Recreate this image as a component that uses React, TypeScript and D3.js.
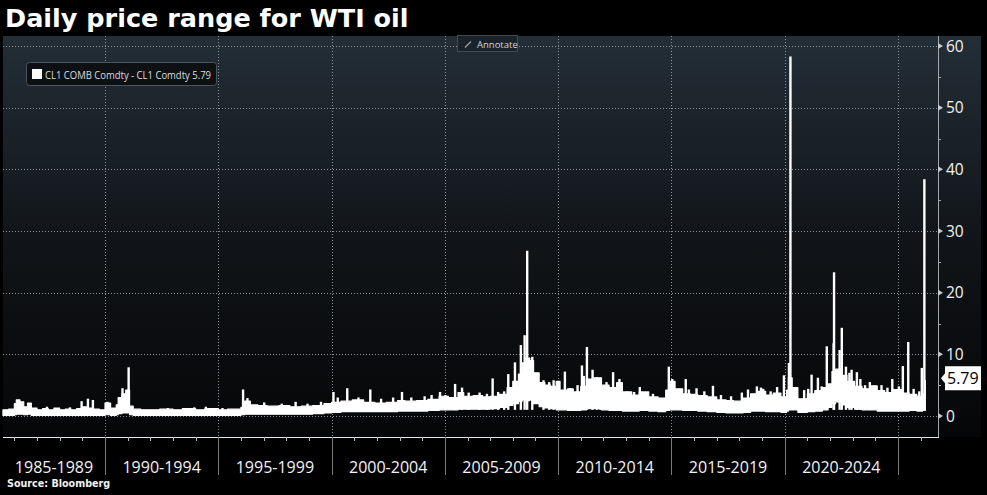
import * as d3 from "d3";

// daily high-low range of CL1 (USD/bbl)
const bandDates = [
  "1985-07-01", "1985-10-01", "1986-01-01", "1986-02-01", "1986-04-01", "1986-06-01", "1986-08-01", "1986-10-01",
  "1987-01-01", "1987-04-01", "1987-07-01", "1987-10-01", "1988-01-01", "1988-04-01", "1988-07-01", "1988-10-01",
  "1989-01-01", "1989-04-01", "1989-07-01", "1989-10-01", "1990-01-01", "1990-04-01", "1990-07-01", "1990-08-01",
  "1990-10-01", "1990-12-01", "1991-02-01", "1991-04-01", "1991-08-01", "1992-01-01", "1992-06-01", "1993-01-01",
  "1993-06-01", "1994-01-01", "1994-06-01", "1995-01-01", "1995-06-01", "1996-01-01", "1996-03-01", "1996-06-01",
  "1996-10-01", "1997-03-01", "1997-09-01", "1998-03-01", "1998-09-01", "1999-03-01", "1999-09-01", "2000-01-01",
  "2000-06-01", "2000-12-01", "2001-06-01", "2001-12-01", "2002-06-01", "2002-12-01", "2003-04-01", "2003-10-01",
  "2004-04-01", "2004-10-01", "2005-03-01", "2005-08-01", "2005-11-01", "2006-04-01", "2006-09-01", "2007-01-01",
  "2007-06-01", "2007-10-01", "2008-01-01", "2008-04-01", "2008-06-01", "2008-08-01", "2008-10-01", "2008-12-01",
  "2009-03-01", "2009-06-01", "2009-09-01", "2009-12-01", "2010-02-01", "2010-06-01", "2010-09-01", "2011-01-01",
  "2011-04-01", "2011-08-01", "2011-12-01", "2012-04-01", "2012-08-01", "2012-11-01", "2013-04-01", "2013-08-01",
  "2014-01-01", "2014-06-01", "2014-10-01", "2014-12-01", "2015-03-01", "2015-07-01", "2015-11-01", "2016-03-01",
  "2016-08-01", "2017-01-01", "2017-06-01", "2017-10-01", "2018-03-01", "2018-07-01", "2018-11-01", "2019-03-01",
  "2019-07-01", "2019-11-01", "2020-02-01", "2020-03-01", "2020-05-01", "2020-08-01", "2021-01-01", "2021-05-01",
  "2021-09-01", "2021-12-01", "2022-02-01", "2022-04-01", "2022-07-01", "2022-10-01", "2023-02-01", "2023-06-01",
  "2023-10-01", "2024-02-01", "2024-06-01", "2024-10-01", "2025-03-01", "2025-07-01", "2025-11-01", "2026-02-01",
  "2026-03-17",
];
const bandLow = [
  0.1, 0.1, 0.2, 0.3, 0.3, 0.2, 0.3, 0.1,
  0.1, 0.1, 0.1, 0.1, 0.1, 0.1, 0.1, 0.1,
  0.1, 0.1, 0.1, 0.1, 0.2, 0.1, 0.2, 0.4,
  0.5, 0.5, 0.2, 0.1, 0.1, 0.1, 0.1, 0.1,
  0.1, 0.1, 0.1, 0.1, 0.1, 0.2, 0.3, 0.3,
  0.3, 0.3, 0.3, 0.3, 0.3, 0.4, 0.5, 0.6,
  0.7, 0.7, 0.7, 0.7, 0.7, 0.8, 0.8, 0.8,
  0.9, 1.0, 1.0, 1.1, 1.1, 1.1, 1.1, 1.2,
  1.4, 1.7, 2.0, 2.4, 2.6, 2.5, 2.6, 2.0,
  1.5, 1.3, 1.2, 1.0, 1.0, 0.9, 0.9, 1.0,
  1.2, 1.2, 1.0, 0.9, 0.9, 0.8, 0.8, 0.9,
  0.8, 0.7, 0.9, 1.0, 1.0, 0.9, 0.9, 0.8,
  0.7, 0.6, 0.5, 0.5, 0.6, 0.8, 0.8, 0.7,
  0.7, 0.6, 0.8, 1.0, 1.0, 0.6, 0.7, 0.8,
  1.0, 1.4, 2.0, 2.3, 1.8, 1.4, 1.1, 1.0,
  1.0, 0.8, 0.8, 0.8, 0.8, 0.9, 0.8, 0.9,
  0.9,
];
const bandHigh = [
  1.0, 1.1, 2.0, 2.6, 2.3, 1.5, 2.1, 1.3,
  1.0, 1.2, 1.0, 1.3, 1.0, 1.1, 1.0, 1.2,
  1.5, 1.3, 1.1, 1.0, 2.1, 1.3, 1.8, 3.0,
  3.6, 4.2, 1.6, 1.1, 1.0, 1.0, 1.1, 1.0,
  1.2, 1.0, 1.2, 1.0, 1.1, 1.4, 2.4, 1.8,
  1.7, 1.6, 1.7, 1.5, 1.6, 1.7, 2.0, 2.2,
  2.4, 2.6, 2.2, 2.1, 2.2, 2.5, 2.4, 2.5,
  2.7, 3.2, 3.0, 3.8, 3.2, 3.3, 3.1, 3.2,
  3.5, 4.6, 5.6, 6.8, 8.6, 9.4, 9.0, 7.0,
  5.4, 5.0, 4.8, 5.6, 4.2, 4.4, 3.9, 4.8,
  6.0, 6.2, 5.0, 4.6, 5.4, 3.9, 3.4, 3.9,
  3.1, 2.9, 4.2, 5.6, 4.4, 3.6, 3.5, 3.3,
  3.1, 2.6, 2.5, 2.4, 2.9, 3.6, 4.0, 3.4,
  3.7, 3.1, 4.2, 6.2, 4.6, 2.8, 3.6, 4.1,
  4.6, 5.2, 7.2, 7.6, 6.6, 5.6, 4.8, 4.4,
  4.9, 4.1, 3.8, 4.3, 3.7, 3.5, 3.2, 3.5,
  5.79,
];

// single-day outliers sticking out of the band
const spikeDates = [
  "1987-06-10", "1988-06-15", "1988-12-20", "1989-04-01", "1989-06-20", "1990-02-10", "1990-10-10", "1991-01-17",
  "1992-10-10", "1993-12-10", "1994-06-15", "1995-03-10", "1996-02-05", "1996-04-15", "1997-01-10", "1997-10-20",
  "1998-06-01", "1998-12-10", "1999-07-15", "2000-02-01", "2000-04-10", "2000-09-10", "2001-03-10", "2001-09-17",
  "2002-03-10", "2002-09-20", "2003-02-10", "2003-07-10", "2004-02-10", "2004-06-01", "2004-10-15", "2005-01-10",
  "2005-06-15", "2005-10-05", "2006-01-20", "2006-07-15", "2006-11-10", "2007-02-10", "2007-05-10", "2007-08-15",
  "2007-10-20", "2008-02-05", "2008-05-10", "2008-07-10", "2008-08-20", "2008-11-10", "2009-05-10", "2009-08-10",
  "2009-10-20", "2010-01-10", "2010-04-20", "2010-07-15", "2010-11-10", "2011-01-20", "2011-02-20", "2011-04-10",
  "2011-07-10", "2011-09-20", "2011-11-15", "2012-02-20", "2012-06-05", "2012-09-15", "2012-10-20", "2013-01-15",
  "2013-05-10", "2013-08-10", "2014-03-10", "2014-11-20", "2015-01-15", "2015-05-10", "2015-08-20", "2015-10-10",
  "2016-02-10", "2016-06-15", "2016-11-01", "2017-03-10", "2017-08-20", "2018-02-10", "2018-05-20", "2018-10-10",
  "2018-12-15", "2019-01-20", "2019-05-20", "2019-09-01", "2019-12-20", "2020-03-10", "2020-04-03", "2020-07-10",
  "2020-11-10", "2021-01-15", "2021-03-10", "2021-06-20", "2021-08-20", "2021-11-10", "2022-02-28", "2022-03-07",
  "2022-06-05", "2022-07-10", "2022-09-15", "2022-11-10", "2022-12-15", "2023-03-10", "2023-05-05", "2023-07-20",
  "2023-10-05", "2024-04-10", "2024-07-15", "2024-10-01", "2025-01-15", "2025-03-20", "2025-06-15", "2025-09-10",
  "2025-12-10", "2026-01-20", "2026-03-02",
];
const spikeHigh = [
  1.5, 1.4, 2.4, 2.8, 2.6, 2.3, 4.5, 7.9,
  1.3, 1.4, 1.5, 1.3, 4.3, 2.9, 2.2, 2.0,
  2.3, 2.0, 2.3, 3.9, 3.0, 4.5, 3.0, 4.3,
  2.8, 3.0, 3.9, 3.0, 3.2, 3.4, 3.9, 3.4,
  5.2, 4.6, 3.8, 3.8, 3.6, 6.1, 3.9, 4.0,
  6.8, 8.7, 11.5, 13.1, 26.8, 9.6, 5.8, 5.5,
  5.8, 5.0, 7.2, 4.5, 5.0, 8.2, 6.5, 11.2,
  7.5, 6.3, 6.0, 5.5, 7.1, 6.0, 5.4, 4.0,
  3.9, 4.7, 3.6, 8.0, 6.0, 4.2, 6.0, 4.3,
  4.5, 4.0, 4.9, 3.4, 3.2, 3.8, 4.3, 4.8,
  4.6, 4.4, 4.0, 4.7, 6.6, 8.6, 58.3, 3.6,
  4.2, 4.4, 6.7, 6.2, 4.8, 11.3, 11.8, 23.3,
  10.7, 14.3, 8.0, 7.0, 7.5, 7.1, 6.0, 5.0,
  5.5, 5.0, 4.6, 6.0, 4.8, 8.1, 12.0, 4.4,
  4.0, 7.8, 38.4,
];

const periodStarts = ["1990", "1995", "2000", "2005", "2010", "2015", "2020", "2025"];
const periodLabels = ["1985-1989", "1990-1994", "1995-1999", "2000-2004", "2005-2009", "2010-2014", "2015-2019", "2020-2024"];
const yTicks = [0, 10, 20, 30, 40, 50, 60];
const yMinor = [5, 15, 25, 35, 45, 55];
const lastValue = 5.79;
const legendText = "CL1 COMB Comdty - CL1 Comdty 5.79";

const W = 987;
const H = 495;
const left = 3;
const right = 938;
const top = 36;
const bottom = 437;
const panelRight = 981;
const font = "'Open Sans', 'DejaVu Sans', sans-serif";

const parse = d3.timeParse("%Y-%m-%d");
const parseY = d3.timeParse("%Y");

export default function App() {
  const x = d3
    .scaleTime()
    .domain([new Date(1990, 0, 1), new Date(2025, 0, 1)])
    .range([105, 898]);
  const y = d3.scaleLinear().domain([0, 60]).range([416, 46]);

  const band = bandDates.map((d, i) => ({ date: parse(d) as Date, lo: bandLow[i], hi: bandHigh[i] }));
  const area = d3
    .area<{ date: Date; lo: number; hi: number }>()
    .x((d) => x(d.date))
    .y0((d) => y(d.lo))
    .y1((d) => y(d.hi))
    .curve(d3.curveStepAfter);

  const spikes = spikeDates.map((d, i) => ({ date: parse(d) as Date, v: spikeHigh[i] }));

  const xStart = x.invert(left);
  const xEnd = x.invert(right);
  const seps = periodStarts.map((s) => parseY(s) as Date);
  const bounds = [xStart, ...seps];
  const years = d3.timeYear.range(d3.timeYear.ceil(xStart), xEnd);

  const ly = y(lastValue) - 2;

  return (
    <div style={{ position: "fixed", left: 0, top: 0, width: W, height: H, background: "#000" }}>
      <svg width={W} height={H} style={{ display: "block" }}>
        <defs>
          <linearGradient id="bg" x1="0" y1="0" x2="0" y2="1">
            <stop offset="0" stopColor="#232e37" />
            <stop offset="0.5" stopColor="#111519" />
            <stop offset="1" stopColor="#050607" />
          </linearGradient>
        </defs>
        <rect x={0} y={0} width={W} height={H} fill="#000" />
        <rect x={left} y={top} width={panelRight - left} height={bottom - top} fill="url(#bg)" />

        {/* grid */}
        <g stroke="#8c9298" strokeWidth={1} strokeDasharray="1,2">
          {yTicks.map((t) => (
            <line key={"h" + t} x1={left} x2={right} y1={Math.round(y(t)) + 0.5} y2={Math.round(y(t)) + 0.5} />
          ))}
          {seps.map((d, i) => (
            <line key={"v" + i} x1={Math.round(x(d)) + 0.5} x2={Math.round(x(d)) + 0.5} y1={top} y2={bottom} />
          ))}
        </g>

        {/* series */}
        <path d={area(band) || ""} fill="#fff" stroke="#fff" strokeWidth={1.2} strokeLinejoin="round" />
        <g stroke="#fff" strokeWidth={2.4}>
          {spikes.map((s, i) => (
            <line key={i} x1={x(s.date)} x2={x(s.date)} y1={y(1)} y2={y(s.v)} />
          ))}
        </g>

        {/* x axis */}
        <line x1={left} x2={right + 1} y1={bottom + 0.5} y2={bottom + 0.5} stroke="#e6e6e6" />
        <g stroke="#bbb">
          {years.map((d, i) => (
            <line key={i} x1={Math.round(x(d)) + 0.5} x2={Math.round(x(d)) + 0.5} y1={bottom} y2={bottom + 4} />
          ))}
        </g>
        <g stroke="#7a7a7a">
          {seps.map((d, i) => (
            <line key={i} x1={Math.round(x(d)) + 0.5} x2={Math.round(x(d)) + 0.5} y1={bottom} y2={475} />
          ))}
        </g>
        <g fill="#f2f2f2" fontFamily={font} fontSize={16} textAnchor="middle">
          {periodLabels.map((l, i) => (
            <text key={l} x={(x(bounds[i]) + x(bounds[i + 1])) / 2} y={473}>
              {l}
            </text>
          ))}
        </g>

        {/* y axis */}
        <line x1={right + 0.5} x2={right + 0.5} y1={top} y2={bottom} stroke="#a4a8ac" />
        <g fill="#c8cbce">
          {yTicks.map((t) => (
            <path key={t} d={`M${right},${y(t) - 3}L${right + 5},${y(t)}L${right},${y(t) + 3}Z`} />
          ))}
        </g>
        <g stroke="#a4a8ac">
          {yMinor.map((t) => (
            <line key={t} x1={right} x2={right + 3} y1={Math.round(y(t)) + 0.5} y2={Math.round(y(t)) + 0.5} />
          ))}
        </g>
        <g fill="#f2f2f2" fontFamily={font} fontSize={15.5}>
          {yTicks.map((t) => (
            <text key={t} x={right + 8} y={y(t)} dy="0.36em">
              {t}
            </text>
          ))}
        </g>

        {/* last value tag */}
        <path
          d={`M${right + 3},${ly}L${right + 7},${ly - 5}L${right + 7},${ly - 12}L${panelRight},${ly - 12}L${panelRight},${ly + 12}L${right + 7},${ly + 12}L${right + 7},${ly + 5}Z`}
          fill="#fff"
        />
        <text x={right + 9} y={ly} dy="0.36em" fill="#000" fontFamily={font} fontSize={16}>
          {lastValue.toFixed(2)}
        </text>

        {/* legend */}
        <rect x={26.5} y={62.5} width={190} height={23} rx={3} fill="#0e1114" stroke="#4d545b" />
        <rect x={32} y={69} width={10} height={10} fill="#fff" />
        <text
          x={45}
          y={78.5}
          fill="#dcdcdc"
          fontFamily={font}
          fontSize={11.5}
          textLength={166}
          lengthAdjust="spacingAndGlyphs"
        >
          {legendText}
        </text>

        {/* annotate button */}
        <rect x={457.5} y={35.5} width={60} height={16} fill="#1a2329" stroke="#3e4b55" />
        <line x1={465} y1={47.5} x2={471} y2={41.5} stroke="#9aa2a8" strokeWidth={1.2} />
        <text x={477} y={47.5} fill="#d0d4d8" fontFamily={font} fontSize={9.5}>
          Annotate
        </text>

        {/* title and source */}
        <text x={5} y={27} fill="#fff" fontFamily="'DejaVu Sans', Verdana, sans-serif" fontWeight="bold" fontSize={25.5}>
          Daily price range for WTI oil
        </text>
        <text x={7} y={487} fill="#f2f2f2" fontFamily="'DejaVu Sans', Verdana, sans-serif" fontWeight="bold" fontSize={9.6}>
          Source:  Bloomberg
        </text>
      </svg>
    </div>
  );
}
